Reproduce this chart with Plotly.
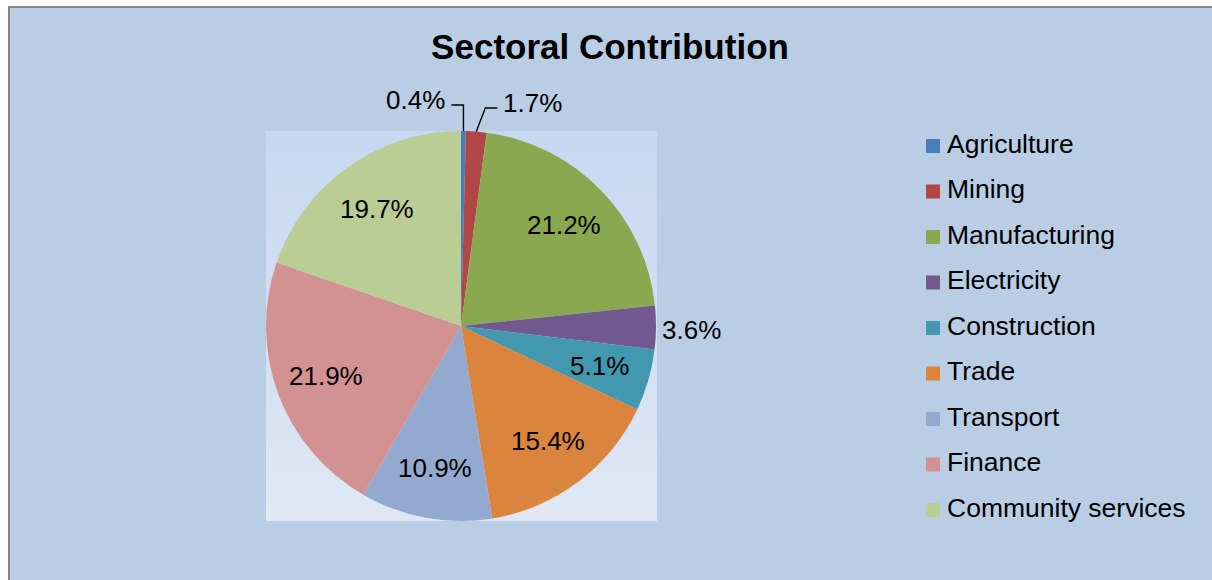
import math
import plotly.graph_objects as go

# Sector shares of output (%)
sectors = ["Agriculture", "Mining", "Manufacturing", "Electricity", "Construction",
           "Trade", "Transport", "Finance", "Community services"]
shares = [0.4, 1.7, 21.2, 3.6, 5.1, 15.4, 10.9, 21.9, 19.7]
slice_colors = ["#4A7EBB", "#B04645", "#8AA84F", "#71588F", "#4298AF",
                "#DB843D", "#94A9CF", "#D29291", "#BACD95"]
chart_title = "Sectoral Contribution"

W, H = 1212, 580
FONT = "Liberation Sans, Arial, Helvetica, sans-serif"
LABEL_SIZE = 26


def fx(x):
    """pixel x -> paper x"""
    return x / W


def fy(y):
    """pixel y (from top) -> paper y"""
    return 1 - y / H


# pie / plot-area box in pixels
BOX_L, BOX_R, BOX_T, BOX_B = 266, 657, 131, 521
PIE_L, PIE_R = 266, 656
CX = (PIE_L + PIE_R) / 2
CY = (BOX_T + BOX_B) / 2
R = (PIE_R - PIE_L) / 2

total = sum(shares)

fig = go.Figure()

fig.add_trace(go.Pie(
    labels=sectors,
    values=shares,
    sort=False,
    direction="clockwise",
    rotation=0,
    marker=dict(colors=slice_colors, line=dict(width=0)),
    textinfo="none",
    domain=dict(x=[fx(PIE_L), fx(PIE_R)], y=[fy(BOX_B), fy(BOX_T)]),
    showlegend=False,
    hoverinfo="label+value",
))

# legend: square markers plus category names on a hidden axis
LEG_X0, LEG_X1 = 933, 1133  # pixel span of the hidden x axis, range [0, 1]
fig.add_trace(go.Scatter(
    x=[0] * len(sectors),
    y=list(range(len(sectors))),
    mode="markers",
    marker=dict(symbol="square", size=14, color=slice_colors, line=dict(width=0)),
    showlegend=False,
    hoverinfo="skip",
    cliponaxis=False,
))
fig.add_trace(go.Scatter(
    x=[(947 - LEG_X0) / (LEG_X1 - LEG_X0)] * len(sectors),
    y=list(range(len(sectors))),
    mode="text",
    text=sectors,
    textposition="middle right",
    textfont=dict(family=FONT, size=26.5, color="black"),
    showlegend=False,
    hoverinfo="skip",
    cliponaxis=False,
))

shapes = []
# outer chart frame
shapes.append(dict(type="rect", xref="paper", yref="paper",
                   x0=fx(9), x1=fx(W + 20), y0=fy(H + 20), y1=fy(7),
                   fillcolor="#B9CDE5", line=dict(color="#858585", width=2),
                   layer="below"))
# plot area with vertical gradient
top_rgb = (198, 217, 241)
bot_rgb = (223, 231, 244)
n_strips = 60
for i in range(n_strips):
    t = i / (n_strips - 1)
    c = tuple(round(a + (b - a) * t) for a, b in zip(top_rgb, bot_rgb))
    y0 = BOX_T + (BOX_B - BOX_T) * i / n_strips
    y1 = BOX_T + (BOX_B - BOX_T) * (i + 1) / n_strips + 0.6
    shapes.append(dict(type="rect", xref="paper", yref="paper",
                       x0=fx(BOX_L), x1=fx(BOX_R), y0=fy(min(y1, BOX_B)), y1=fy(y0),
                       fillcolor="rgb(%d,%d,%d)" % c, line=dict(width=0),
                       layer="below"))

# value labels: inside for wide slices, outside (with leader lines) for thin ones
annotations = []
INSIDE_FRAC = 0.74
cum = 0.0
small = 0
for v in shares:
    mid = 2 * math.pi * (cum + v / 2) / total
    cum += v
    label = "%.1f%%" % v
    font = dict(family=FONT, size=LABEL_SIZE, color="black")
    if v >= 4:
        lx = CX + INSIDE_FRAC * R * math.sin(mid)
        ly = CY - INSIDE_FRAC * R * math.cos(mid)
        annotations.append(dict(xref="paper", yref="paper", x=fx(lx), y=fy(ly),
                                xanchor="center", yanchor="middle",
                                text=label, showarrow=False, font=font))
        continue
    ex = CX + R * math.sin(mid)
    ey = CY - R * math.cos(mid)
    if v >= 2:
        # beside the slice, no connector
        annotations.append(dict(xref="paper", yref="paper", x=fx(ex + 4), y=fy(ey + 2),
                                xanchor="left", yanchor="middle",
                                text=label, showarrow=False, font=font))
        continue
    if small == 0:
        side, kx, ky = -1, ex, 105
    else:
        side, kx, ky = 1, ex + 9, 108
    end_x = kx + side * 12
    shapes.append(dict(type="path", xref="paper", yref="paper",
                       path="M %f,%f L %f,%f L %f,%f" % (fx(ex), fy(ey), fx(kx), fy(ky), fx(end_x), fy(ky)),
                       line=dict(color="black", width=1.4)))
    annotations.append(dict(xref="paper", yref="paper",
                            x=fx(end_x + side * 4), y=fy(ky - 5),
                            xanchor="right" if side < 0 else "left", yanchor="middle",
                            text=label, showarrow=False, font=font))
    small += 1

fig.update_layout(
    width=W, height=H,
    margin=dict(l=0, r=0, t=0, b=0),
    paper_bgcolor="white",
    plot_bgcolor="rgba(0,0,0,0)",
    title=dict(text="<b>%s</b>" % chart_title, x=fx(610), xanchor="center",
               y=fy(47), yanchor="middle",
               font=dict(family=FONT, size=35, color="black")),
    xaxis=dict(domain=[fx(LEG_X0), fx(LEG_X1)], range=[0, 1], visible=False, fixedrange=True),
    yaxis=dict(domain=[fy(510), fy(146)], range=[len(sectors) - 1, 0], visible=False, fixedrange=True),
    shapes=shapes,
    annotations=annotations,
)

fig.write_html("out.html")
